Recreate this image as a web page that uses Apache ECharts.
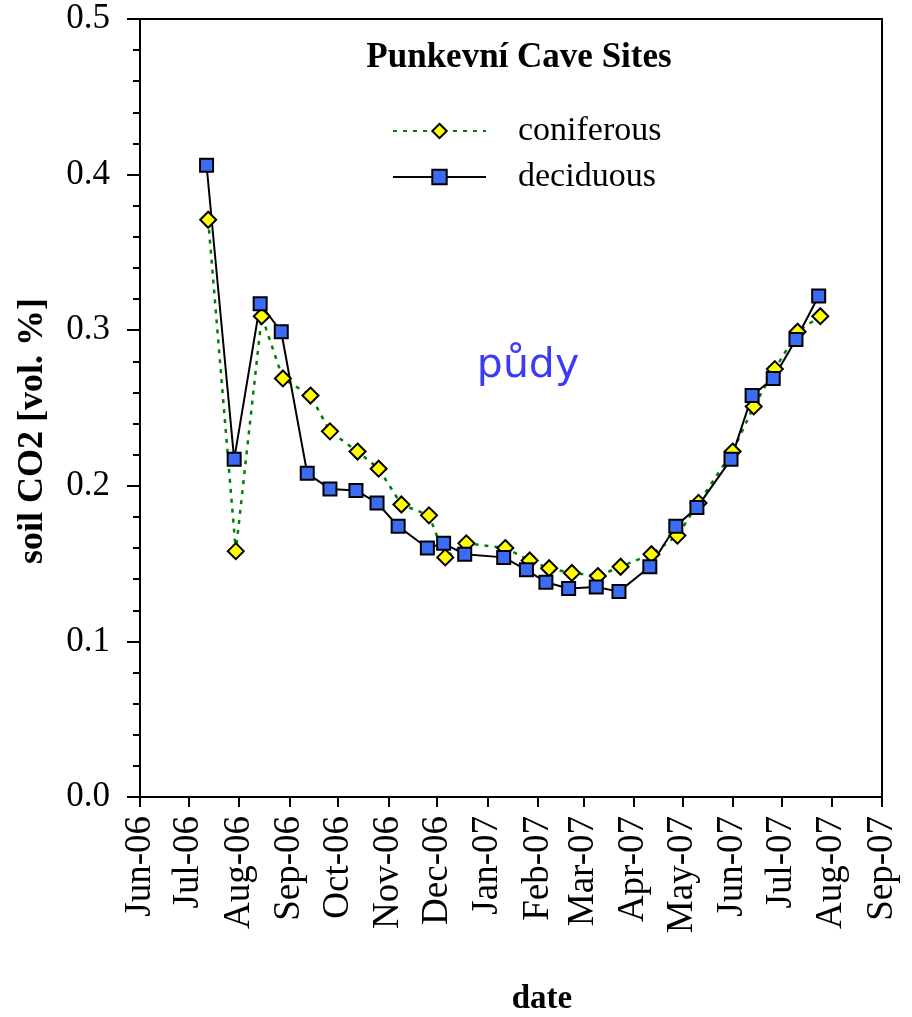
<!DOCTYPE html>
<html>
<head>
<meta charset="utf-8">
<title>Punkevní Cave Sites – soil CO2</title>
<script src="https://cdn.jsdelivr.net/npm/echarts@6/dist/echarts.min.js"></script>
<style>
  html, body { margin: 0; padding: 0; background: #fff; }
  #chart { width: 912px; height: 1017px; }
</style>
</head>
<body>
<div id="chart"></div>
<script>
// Sampling dates and soil CO2 concentrations (vol. %) at the two sites
var coniferousDates = [
  '2006-07-13', '2006-07-30', '2006-08-15', '2006-08-28', '2006-09-14', '2006-09-26',
  '2006-10-13', '2006-10-26', '2006-11-09', '2006-11-26', '2006-12-06', '2006-12-19',
  '2007-01-12', '2007-01-27', '2007-02-08', '2007-02-22', '2007-03-10', '2007-03-24',
  '2007-04-12', '2007-04-28', '2007-05-11', '2007-06-01', '2007-06-14', '2007-06-27',
  '2007-07-11', '2007-07-25'
];
var coniferousValues = [
  0.371, 0.158, 0.309, 0.269, 0.258, 0.235,
  0.222, 0.211, 0.188, 0.181, 0.154, 0.163,
  0.160, 0.152, 0.147, 0.144, 0.142, 0.148,
  0.156, 0.168, 0.189, 0.222, 0.251, 0.275,
  0.299, 0.309
];

var deciduousDates = [
  '2006-07-12', '2006-07-29', '2006-08-14', '2006-08-27', '2006-09-12', '2006-09-26',
  '2006-10-12', '2006-10-25', '2006-11-07', '2006-11-25', '2006-12-05', '2006-12-18',
  '2007-01-11', '2007-01-25', '2007-02-06', '2007-02-20', '2007-03-09', '2007-03-23',
  '2007-04-11', '2007-04-27', '2007-05-10', '2007-05-31', '2007-06-13', '2007-06-26',
  '2007-07-10', '2007-07-24'
];
var deciduousValues = [
  0.406, 0.217, 0.317, 0.299, 0.208, 0.198,
  0.197, 0.189, 0.174, 0.160, 0.163, 0.156,
  0.154, 0.146, 0.138, 0.134, 0.135, 0.132,
  0.148, 0.174, 0.186, 0.217, 0.258, 0.269,
  0.294, 0.322
];

var monthNames = ['Jan', 'Feb', 'Mar', 'Apr', 'May', 'Jun', 'Jul', 'Aug', 'Sep', 'Oct', 'Nov', 'Dec'];
var yTicks = [0.0, 0.1, 0.2, 0.3, 0.4, 0.5];

function pairs(dates, values) {
  return dates.map(function (d, i) { return [d, values[i]]; });
}

var DAY = 24 * 3600 * 1000;
var serif = '"Liberation Serif", "Times New Roman", serif';

var chart = echarts.init(document.getElementById('chart'), null, { renderer: 'canvas' });

chart.setOption({
  animation: false,
  backgroundColor: '#ffffff',
  grid: {
    left: 140, right: 30, top: 19, bottom: 220,
    show: true, borderColor: '#000', borderWidth: 2,
    backgroundColor: 'transparent',
    outerBoundsMode: 'none'
  },
  graphic: [
    {
      type: 'text', x: 519, y: 58,
      style: { text: 'Punkevní Cave Sites', font: 'bold 35px ' + serif, fill: '#000', align: 'center', verticalAlign: 'middle' }
    },
    {
      type: 'text', x: 528, y: 366,
      style: { text: 'půdy', font: '41px "DejaVu Sans", sans-serif', fill: '#3b3bf7', align: 'center', verticalAlign: 'middle' }
    },
    {
      type: 'text', x: 542, y: 999,
      style: { text: 'date', font: 'bold 33px ' + serif, fill: '#000', align: 'center', verticalAlign: 'middle' }
    },
    {
      type: 'text', x: 33, y: 431, rotation: Math.PI / 2,
      style: { text: 'soil CO2 [vol. %]', font: 'bold 36px ' + serif, fill: '#000', align: 'center', verticalAlign: 'middle' }
    }
  ],
  legend: {
    orient: 'vertical',
    left: 387, top: 109,
    itemWidth: 93, itemHeight: 18, itemGap: 12,
    textStyle: { fontFamily: serif, fontSize: 34, lineHeight: 34, color: '#000', padding: [0, 0, 0, 27] },
    data: ['coniferous', 'deciduous']
  },
  xAxis: {
    type: 'time',
    min: new Date(2006, 5, 1).getTime(),
    max: new Date(2007, 8, 1).getTime(),
    splitNumber: 15,
    minInterval: 28 * DAY,
    maxInterval: 31 * DAY,
    axisLine: { show: true, lineStyle: { color: '#000', width: 2 } },
    axisTick: { show: true, inside: false, length: 10, lineStyle: { color: '#000', width: 2 } },
    splitLine: { show: false },
    axisLabel: {
      rotate: 90, margin: 19, interval: 0, hideOverlap: false,
      showMinLabel: true, showMaxLabel: true,
      fontFamily: serif, fontSize: 37, color: '#000',
      formatter: function (v) {
        var d = new Date(v);
        var yy = String(d.getFullYear() % 100);
        if (yy.length < 2) yy = '0' + yy;
        return monthNames[d.getMonth()] + '-' + yy;
      }
    }
  },
  yAxis: {
    type: 'value',
    min: yTicks[0], max: yTicks[yTicks.length - 1], interval: 0.1,
    axisLine: { show: true, lineStyle: { color: '#000', width: 2 } },
    axisTick: { show: true, inside: false, length: 13, lineStyle: { color: '#000', width: 2 } },
    minorTick: { show: true, splitNumber: 5, length: 7, lineStyle: { color: '#000', width: 2 } },
    splitLine: { show: false },
    minorSplitLine: { show: false },
    axisLabel: {
      margin: 30, fontFamily: serif, fontSize: 35, color: '#000',
      formatter: function (v) { return v.toFixed(1); }
    }
  },
  series: [
    {
      name: 'coniferous',
      type: 'line',
      data: pairs(coniferousDates, coniferousValues),
      symbol: 'diamond', symbolSize: 16,
      lineStyle: { color: '#008000', width: 2.5, type: [4, 6] },
      itemStyle: { color: '#ffff00', borderColor: '#000', borderWidth: 2 },
      emphasis: { disabled: true }
    },
    {
      name: 'deciduous',
      type: 'line',
      data: pairs(deciduousDates, deciduousValues),
      symbol: 'rect', symbolSize: 13,
      lineStyle: { color: '#000', width: 2 },
      itemStyle: { color: '#3a6cf6', borderColor: '#000', borderWidth: 2 },
      emphasis: { disabled: true }
    }
  ]
});
</script>
</body>
</html>
